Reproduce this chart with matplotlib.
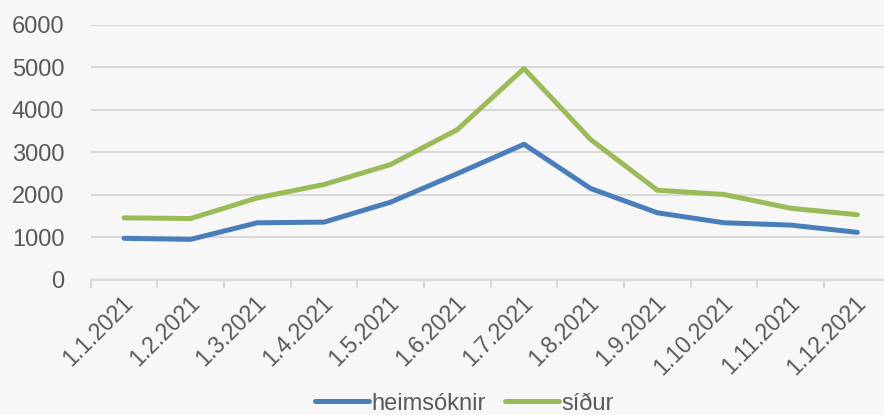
import numpy as np
import matplotlib
matplotlib.use("Agg")
import matplotlib.pyplot as plt

plt.rcParams['font.family'] = ['Liberation Sans', 'DejaVu Sans']

months = ['1.1.2021', '1.2.2021', '1.3.2021', '1.4.2021', '1.5.2021', '1.6.2021',
          '1.7.2021', '1.8.2021', '1.9.2021', '1.10.2021', '1.11.2021', '1.12.2021']
heimsoknir = [980, 955, 1345, 1360, 1830, 2500, 3190, 2150, 1580, 1345, 1290, 1120]
sidur = [1460, 1445, 1930, 2245, 2715, 3535, 4970, 3300, 2110, 2010, 1685, 1535]

bg = '#f8f7f8'
grey = '#595959'

fig = plt.figure(figsize=(8.84, 4.15), dpi=100, facecolor=bg)
ax = fig.add_axes([90.7/884, 1-280/415, 800/884, 255.3/415], facecolor=bg)

x = np.arange(len(months))
ax.plot(x, heimsoknir, color='#4a7ebb', lw=3.6, solid_capstyle='round', label='heimsóknir', zorder=3)
ax.plot(x, sidur, color='#9bbb59', lw=3.6, solid_capstyle='round', label='síður', zorder=3)

ax.set_xlim(-0.5, 11.5)
ax.set_ylim(0, 6000)
ax.set_yticks(range(0, 6001, 1000))
ax.yaxis.grid(True, color='#d9d9d9', lw=1.5)
ax.set_axisbelow(True)
for s in ['top', 'right', 'left']:
    ax.spines[s].set_visible(False)
ax.spines['bottom'].set_color('#d9d9d9')
ax.spines['bottom'].set_linewidth(1.5)

ax.set_xticks(np.arange(-0.5, 12, 1), minor=False)
ax.set_xticklabels([])
ax.set_xticks(x + 0.08, minor=True)
ax.set_xticklabels(months, minor=True, rotation=45, ha='right', va='center',
                   rotation_mode='anchor', fontsize=16.5, color=grey)
ax.tick_params(axis='x', which='major', length=6, width=1.5, color='#d9d9d9')
ax.tick_params(axis='x', which='minor', length=0, pad=14)
ax.tick_params(axis='y', length=0, labelsize=17, labelcolor=grey, pad=19)

leg = fig.legend(loc='lower center', bbox_to_anchor=(0.525, -0.05), ncol=2, frameon=False,
                 fontsize=17, handlelength=2.3, handletextpad=0.1, columnspacing=0.8,
                 labelcolor=grey)

fig.savefig('out.png', dpi=100, facecolor=bg)
